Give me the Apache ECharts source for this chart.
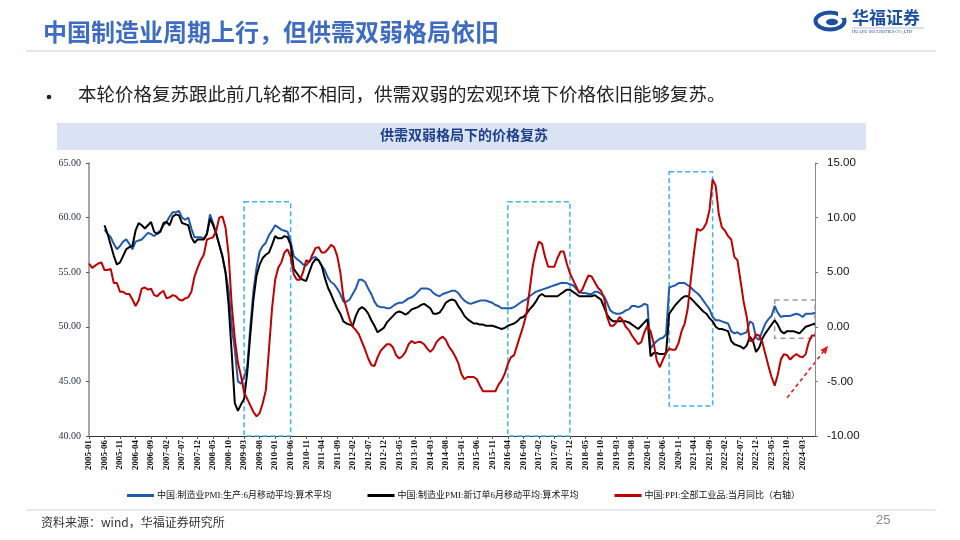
<!DOCTYPE html>
<html><head><meta charset="utf-8">
<script src="https://cdn.jsdelivr.net/npm/echarts/dist/echarts.min.js"></script>
<style>html,body{margin:0;padding:0;background:#fff}#c{width:960px;height:540px}</style>
</head><body><div id="c"></div>
<script>
// monthly categories 2005-01 .. 2024-07
const categories = [];
for (let y = 2005; y <= 2024; y++) {
  for (let mo = 1; mo <= 12; mo++) {
    if (y === 2024 && mo > 7) break;
    categories.push(y + '-' + String(mo).padStart(2, '0'));
  }
}

// 中国:制造业PMI:生产:6月移动平均:算术平均
const pmiProduction = [
  null,null,null,null,null, 58.9, 58.5, 58.2, 57.6, 57.1, 57.4, 57.8,
  58.0, 57.6, 57.1, 57.8, 57.9, 58.0, 58.3, 58.6, 58.5, 58.3, 58.6, 58.8,
  59.3, 59.6, 60.1, 60.5, 60.5, 60.6, 60.0, 59.8, 60.0, 59.0, 58.2, 58.2,
  58.2, 58.1, 58.5, 60.3, 59.5, 58.6, 57.5, 56.4, 55.0, 53.4, 50.0, 47.9,
  45.0, 44.8, 45.4, 46.3, 50.0, 53.3, 55.4, 56.9, 57.4, 57.7, 58.4, 58.8,
  59.3, 59.1, 58.9, 58.8, 58.7, 57.8, 56.5, 56.2, 56.0, 55.7, 55.6, 56.0,
  56.3, 56.4, 56.1, 55.6, 55.2, 54.5, 54.1, 53.9, 53.5, 53.0, 52.3, 52.3,
  52.5, 53.0, 53.5, 54.3, 54.3, 54.1, 53.5, 53.0, 52.3, 51.9, 51.8, 51.8,
  51.7, 51.7, 51.9, 52.1, 52.2, 52.2, 52.4, 52.6, 52.7, 52.9, 53.2, 53.5,
  53.5, 53.5, 53.4, 53.1, 52.9, 52.8, 53.0, 53.1, 53.2, 53.3, 53.3, 53.1,
  52.7, 52.4, 52.2, 52.1, 52.2, 52.3, 52.4, 52.4, 52.4, 52.3, 52.2, 52.0,
  51.9, 51.7, 51.7, 51.7, 51.7, 51.8, 52.0, 52.2, 52.4, 52.5, 52.8, 53.0,
  53.2, 53.3, 53.4, 53.5, 53.6, 53.7, 53.8, 53.9, 54.0, 54.0, 54.0, 53.9,
  53.8, 53.5, 53.2, 53.1, 53.1, 53.0, 53.0, 53.2, 53.2, 53.0, 52.8, 52.2,
  51.5, 51.3, 51.2, 51.2, 51.3, 51.5, 51.6, 51.9, 51.9, 51.8, 51.9, 52.1,
  52.0, 48.0, 48.4, 48.7, 48.9, 49.0, 49.3, 53.6, 53.7, 53.8, 54.0, 54.0,
  54.0, 53.8, 53.6, 53.3, 53.1, 52.8, 52.4, 52.0, 51.6, 50.9, 50.6, 50.6,
  50.5, 50.4, 50.3, 49.6, 49.4, 49.5, 49.3, 49.4, 49.5, 50.5, 50.3, 49.0,
  48.8, 49.6, 50.3, 50.7, 51.0, 51.9, 51.3, 50.9, 51.0, 51.0, 51.0, 51.1,
  51.2, 51.1, 50.9, 51.2, 51.2, 51.2, 51.3
];

// 中国:制造业PMI:新订单6月移动平均:算术平均
const pmiNewOrders = [
  null,null,null,null,null, 59.3, 58.5, 57.5, 56.5, 55.7, 55.9, 56.5,
  57.1, 57.3, 57.4, 58.8, 59.5, 59.3, 59.0, 59.3, 59.6, 58.7, 58.5, 58.7,
  59.5, 59.6, 59.3, 60.1, 60.3, 60.2, 59.5, 59.4, 59.3, 58.2, 57.7, 58.0,
  58.0, 58.0, 58.5, 59.9, 59.3, 58.5, 57.5, 56.5, 55.0, 52.0, 47.6, 43.0,
  42.3, 42.9, 43.4, 45.8, 49.3, 52.5, 54.7, 55.7, 56.3, 56.6, 56.8, 57.5,
  58.3, 58.1, 58.1, 58.3, 58.2, 57.5, 55.3, 54.9, 54.5, 54.3, 54.2, 55.0,
  55.8, 56.2, 56.1, 55.6, 54.5, 53.6, 53.0, 52.3, 51.7, 51.2, 50.5, 50.3,
  50.2, 50.1, 51.0, 51.6, 51.8, 51.6, 51.2, 50.6, 50.1, 49.5, 49.7, 49.9,
  50.4, 50.7, 51.0, 51.3, 51.4, 51.3, 51.1, 51.3, 51.6, 51.7, 51.8, 52.0,
  52.1, 51.9, 51.7, 51.2, 51.2, 51.3, 51.7, 52.2, 52.4, 52.5, 52.4, 51.9,
  51.5, 51.0, 50.7, 50.5, 50.3, 50.3, 50.2, 50.2, 50.1, 50.1, 50.1, 50.0,
  49.9, 49.8, 49.9, 50.1, 50.2, 50.3, 50.5, 50.8, 50.9, 51.2, 51.6, 51.9,
  52.3, 52.8, 53.0, 52.8, 52.8, 52.8, 52.8, 52.8, 53.0, 53.2, 53.4, 53.4,
  53.2, 53.0, 52.8, 52.8, 52.8, 52.8, 52.8, 52.9, 52.7, 52.5, 51.8, 51.1,
  50.7, 50.5, 50.5, 50.5, 50.5, 50.5, 50.4, 50.2, 50.0, 49.8, 50.1, 50.4,
  50.7, 47.3, 47.6, 47.6, 47.5, 47.5, 47.6, 51.2, 51.6, 52.0, 52.3, 52.6,
  52.8, 52.8, 52.6, 52.3, 52.0, 51.7, 51.4, 51.2, 50.8, 50.5, 50.0, 49.8,
  49.8, 49.7, 49.6, 48.7, 48.4, 48.3, 48.2, 48.0, 48.3, 49.1, 48.7, 47.7,
  48.1, 48.9, 49.4, 49.8, 50.2, 50.6, 50.2, 49.6, 49.4, 49.6, 49.6, 49.6,
  49.5, 49.4, 49.7, 50.0, 50.1, 50.2, 50.3
];

// 中国:PPI:全部工业品:当月同比（右轴）
const ppiYoy = [
  5.8, 5.4, 5.6, 5.8, 5.9, 5.2, 5.2, 5.3, 4.0, 4.0, 3.2, 3.2,
  3.0, 3.0, 2.5, 1.9, 2.4, 3.5, 3.6, 3.4, 3.5, 2.9, 2.8, 3.1,
  3.3, 2.6, 2.7, 2.9, 2.8, 2.5, 2.4, 2.6, 2.7, 3.2, 4.6, 5.4,
  6.1, 6.6, 8.0, 8.1, 8.2, 8.8, 10.0, 10.1, 9.1, 6.6, 2.0, -1.1,
  -3.3, -4.5, -6.0, -6.6, -7.2, -7.8, -8.2, -7.9, -7.0, -5.8, -2.1, 1.7,
  4.3, 5.4, 5.9, 6.8, 7.1, 6.4, 4.8, 4.3, 4.3, 5.0, 6.1, 5.9,
  6.6, 7.2, 7.3, 6.8, 6.8, 7.1, 7.5, 7.3, 6.5, 5.0, 2.7, 1.7,
  0.7, 0.0, -0.3, -0.7, -1.4, -2.1, -2.9, -3.5, -3.6, -2.8, -2.2, -1.9,
  -1.6, -1.6, -1.9, -2.6, -2.9, -2.7, -2.3, -1.6, -1.3, -1.5, -1.4, -1.4,
  -1.6, -2.0, -2.3, -2.0, -1.4, -1.1, -0.9, -1.2, -1.8, -2.2, -2.7, -3.3,
  -4.3, -4.8, -4.6, -4.6, -4.6, -4.8, -5.4, -5.9, -5.9, -5.9, -5.9, -5.9,
  -5.3, -4.9, -4.3, -3.4, -2.8, -2.6, -1.7, -0.8, 0.1, 1.2, 3.3, 5.5,
  6.9, 7.8, 7.6, 6.4, 5.5, 5.5, 5.5, 6.3, 6.9, 6.9, 5.8, 4.9,
  4.3, 3.7, 3.1, 3.4, 4.1, 4.7, 4.6, 4.1, 3.6, 3.3, 2.7, 0.9,
  0.1, 0.1, 0.4, 0.9, 0.6, 0.0, -0.3, -0.8, -1.2, -1.6, -1.4, -0.5,
  0.1, -0.4, -1.5, -3.1, -3.7, -3.0, -2.4, -2.0, -2.1, -2.1, -1.5, -0.4,
  0.3, 1.7, 4.4, 6.8, 9.0, 8.8, 9.0, 9.5, 10.7, 13.5, 12.9, 10.3,
  9.1, 8.8, 8.3, 8.0, 6.4, 6.1, 4.2, 2.3, 0.9, -1.3, -1.3, -0.7,
  -0.8, -1.4, -2.5, -3.6, -4.6, -5.4, -4.4, -3.0, -2.5, -2.6, -3.0, -2.7,
  -2.5, -2.7, -2.8, -2.5, -1.4, -0.8, -0.8
];

const seriesNames = [
  '中国:制造业PMI:生产:6月移动平均:算术平均',
  '中国:制造业PMI:新订单6月移动平均:算术平均',
  '中国:PPI:全部工业品:当月同比（右轴）'
];

// highlighted periods (category from/to, left-axis value top/bottom)
const boxes = [
  ['2009-03', '2010-06', 61.45, 40],
  ['2016-04', '2017-12', 61.45, 40],
  ['2020-08', '2021-10', 64.2, 42.75]
];
const grayBox = ['2023-06', '2024-07', 52.45, 48.95];

const CJK = '"Noto Sans CJK SC", sans-serif';
const SERIF = '"Liberation Serif", "Noto Sans CJK SC", serif';

const chart = echarts.init(document.getElementById('c'), null, {renderer: 'canvas'});

const markData = boxes.map(b => [{xAxis: b[0], yAxis: b[2]}, {xAxis: b[1], yAxis: b[3]}]);
markData.push([
  {xAxis: grayBox[0], yAxis: grayBox[2], itemStyle: {borderColor: '#9a9a9a', borderType: [5, 4]}},
  {xAxis: grayBox[1], yAxis: grayBox[3]}
]);

chart.setOption({
  animation: false,
  backgroundColor: '#fff',
  grid: {left: 89, right: 145, top: 163, bottom: 104, containLabel: false},
  legend: {
    left: 122, top: 486, itemWidth: 27, itemHeight: 3, itemGap: 36, icon: 'rect',
    textStyle: {fontSize: 9, fontFamily: SERIF, color: '#111', padding: [0, 0, 0, -2]},
    data: seriesNames
  },
  xAxis: {
    type: 'category', data: categories, boundaryGap: false,
    axisLine: {onZero: false, lineStyle: {color: '#333', width: 1}},
    axisTick: {show: true, interval: 4, length: 3, lineStyle: {color: '#555'}},
    axisLabel: {interval: 4, rotate: 90, fontSize: 9, fontWeight: 'bold', fontFamily: '"Liberation Serif", serif', color: '#111', margin: 4},
    splitLine: {show: false}
  },
  yAxis: [
    {
      type: 'value', min: 40, max: 65, interval: 5, position: 'left',
      splitLine: {show: false},
      axisLine: {show: true, lineStyle: {color: '#8a8a8a', width: 1.5}},
      axisTick: {show: true, length: 3, lineStyle: {color: '#555'}},
      axisLabel: {formatter: v => v.toFixed(2), fontFamily: '"Liberation Serif", serif', fontSize: 10, color: '#1f2a44', margin: 8}
    },
    {
      type: 'value', min: -10, max: 15, interval: 5, position: 'right',
      splitLine: {show: false},
      axisLine: {show: true, lineStyle: {color: '#8a8a8a', width: 1}},
      axisTick: {show: true, length: 3, lineStyle: {color: '#777'}},
      axisLabel: {formatter: v => v.toFixed(2), fontFamily: '"Liberation Sans", Arial, sans-serif', fontSize: 11.5, color: '#111', margin: 12}
    }
  ],
  series: [
    {
      name: seriesNames[0], type: 'line', data: pmiProduction, yAxisIndex: 0,
      symbol: 'none', lineStyle: {color: '#1f5aab', width: 2}, itemStyle: {color: '#1f5aab'},
      markArea: {
        silent: true,
        itemStyle: {color: 'rgba(0,0,0,0)', borderColor: '#3cb4ea', borderWidth: 1.5, borderType: [5, 3]},
        data: markData
      }
    },
    {
      name: seriesNames[1], type: 'line', data: pmiNewOrders, yAxisIndex: 0,
      symbol: 'none', lineStyle: {color: '#000', width: 2}, itemStyle: {color: '#000'}
    },
    {
      name: seriesNames[2], type: 'line', data: ppiYoy, yAxisIndex: 1,
      symbol: 'none', lineStyle: {color: '#c00000', width: 2}, itemStyle: {color: '#c00000'}
    }
  ]
});

// arrow annotation anchored to data space
const p0 = chart.convertToPixel({xAxisIndex: 0, yAxisIndex: 1}, ['2023-10', -6.5]);
const dx = 41, dy = -52;
const p1 = [p0[0] + dx, p0[1] + dy];
const len = Math.sqrt(dx * dx + dy * dy), ux = dx / len, uy = dy / len;
const hl = 8, hw = 3.5;
const base = [p1[0] - ux * hl, p1[1] - uy * hl];

chart.setOption({
  graphic: [
    // header
    {type: 'text', left: 43, top: 20, style: {text: '中国制造业周期上行，但供需双弱格局依旧', font: 'bold 24px ' + CJK, fill: '#3d6cc2'}},
    {type: 'line', shape: {x1: 26, y1: 51, x2: 936, y2: 51}, style: {stroke: '#e2e8f3', lineWidth: 2}},
    // logo
    {type: 'ellipse', shape: {cx: 830, cy: 21, rx: 14.5, ry: 8.5}, style: {fill: 'none', stroke: '#1d4fa0', lineWidth: 4}},
    {type: 'ellipse', shape: {cx: 832, cy: 22, rx: 6, ry: 3.2}, style: {fill: '#1d4fa0'}},
    {type: 'rect', shape: {x: 838, y: 12, width: 7, height: 6}, style: {fill: '#fff'}},
    {type: 'text', left: 852, top: 9, style: {text: '华福证券', font: 'bold 17px ' + CJK, fill: '#1d4fa0'}},
    {type: 'line', shape: {x1: 852, y1: 28, x2: 924, y2: 28}, style: {stroke: '#7f9cc9', lineWidth: 0.6}},
    {type: 'text', left: 852, top: 29, style: {text: 'HUAFU SECURITIES CO.,LTD', font: '4.5px "Liberation Serif", serif', fill: '#1d4fa0'}},
    // bullet
    {type: 'circle', shape: {cx: 49, cy: 97, r: 2.3}, style: {fill: '#222'}},
    {type: 'text', left: 78, top: 85, style: {text: '本轮价格复苏跟此前几轮都不相同，供需双弱的宏观环境下价格依旧能够复苏。', font: '18.5px ' + CJK, fill: '#222'}},
    // chart title band
    {type: 'rect', shape: {x: 57, y: 123, width: 809, height: 27}, style: {fill: '#dae3f3'}},
    {type: 'text', left: 380, top: 128, style: {text: '供需双弱格局下的价格复苏', font: 'bold 14px ' + CJK, fill: '#1f3f8a'}},
    // footer
    {type: 'line', shape: {x1: 26, y1: 510, x2: 936, y2: 510}, style: {stroke: '#e6ebf5', lineWidth: 2}},
    {type: 'text', left: 41, top: 516, style: {text: '资料来源：wind，华福证券研究所', font: '12px ' + CJK, fill: '#333'}},
    {type: 'text', left: 876, top: 514, style: {text: '25', font: '13px "Liberation Sans", sans-serif', fill: '#8a8a8a'}},
    // arrow
    {type: 'line', shape: {x1: p0[0], y1: p0[1], x2: base[0], y2: base[1]}, style: {stroke: '#e02020', lineWidth: 1.6, lineDash: [4, 3]}},
    {type: 'polygon', shape: {points: [p1, [base[0] - uy * hw, base[1] + ux * hw], [base[0] + uy * hw, base[1] - ux * hw]]}, style: {fill: '#e02020'}}
  ]
});
</script>
</body></html>
